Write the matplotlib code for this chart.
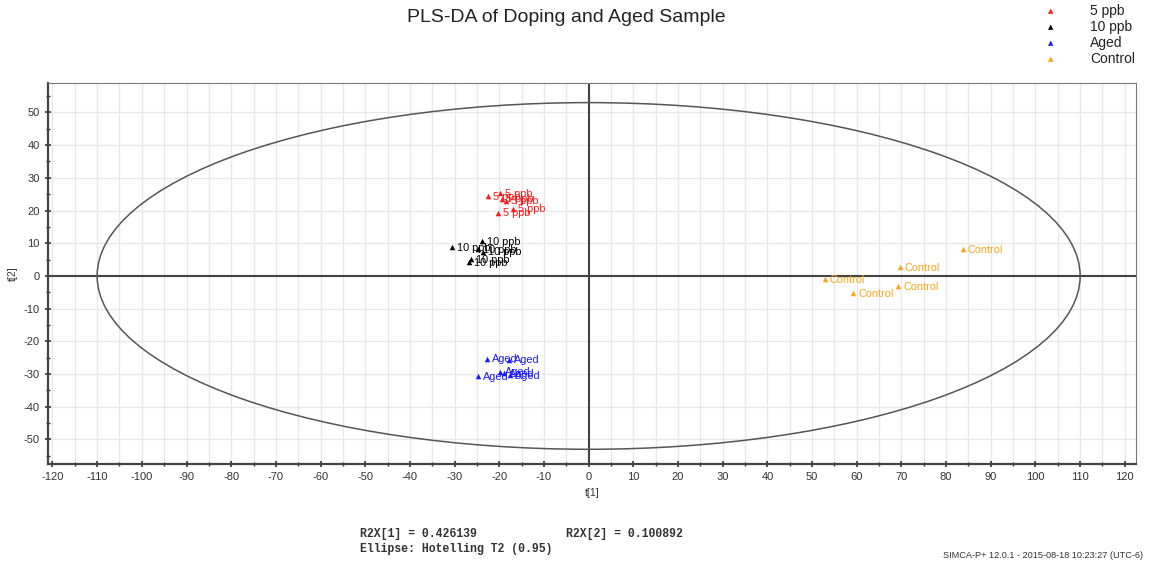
import numpy as np
import matplotlib
matplotlib.use("Agg")
import matplotlib.pyplot as plt
from matplotlib.patches import Ellipse
from matplotlib.ticker import MultipleLocator

plt.rcParams['font.family'] = ['Liberation Sans', 'DejaVu Sans']
plt.rcParams['axes.unicode_minus'] = False

# score coordinates (t[1], t[2]) per class
ppb5_t1 = [-22.5, -19.9, -19.5, -18.4, -20.3, -17.0]
ppb5_t2 = [24.3, 25.3, 23.6, 23.0, 19.4, 20.6]
ppb10_t1 = [-30.5, -23.8, -24.8, -23.6, -26.3, -26.8]
ppb10_t2 = [8.8, 10.6, 8.2, 7.4, 5.2, 4.2]
aged_t1 = [-22.8, -17.8, -24.7, -19.9, -18.9, -17.6]
aged_t2 = [-25.3, -25.6, -30.7, -29.3, -29.8, -30.4]
ctrl_t1 = [83.8, 69.6, 52.9, 69.3, 59.2]
ctrl_t2 = [8.3, 2.7, -0.9, -3.1, -5.3]

groups = [
    ("5 ppb", ppb5_t1, ppb5_t2, "#ff1a1a"),
    ("10 ppb", ppb10_t1, ppb10_t2, "#000000"),
    ("Aged", aged_t1, aged_t2, "#1a1aff"),
    ("Control", ctrl_t1, ctrl_t2, "#ffa31a"),
]

# Hotelling T2 (0.95) ellipse semi-axes
ell_a = 110.0
ell_b = 53.0

r2x_1 = 0.426139
r2x_2 = 0.100892

fig = plt.figure(figsize=(11.49, 5.65), dpi=100)
ax = fig.add_axes([48 / 1149, 101 / 565, 1088 / 1149, 381 / 565])

ax.set_xlim(-121, 122.5)
ax.set_ylim(-57.5, 59)
ax.xaxis.set_major_locator(MultipleLocator(10))
ax.xaxis.set_minor_locator(MultipleLocator(5))
ax.yaxis.set_major_locator(MultipleLocator(10))
ax.yaxis.set_minor_locator(MultipleLocator(5))
ax.xaxis.grid(True, which='both', color='#e8e8e8', linewidth=1.0, zorder=0)
ax.yaxis.grid(True, which='major', color='#e8e8e8', linewidth=1.0, zorder=0)
ax.set_axisbelow(True)

for side in ['top', 'right']:
    ax.spines[side].set_color('#777777')
    ax.spines[side].set_linewidth(0.8)
for side in ['left', 'bottom']:
    ax.spines[side].set_color('#444444')
    ax.spines[side].set_linewidth(1.6)

ax.tick_params(which='major', direction='inout', length=5, width=1.2, color='#333333',
               labelsize=8, labelcolor='#333333', top=False, right=False)
ax.tick_params(which='minor', direction='inout', length=3, width=1.0, color='#333333',
               top=False, right=False)

ax.axhline(0, color='#444444', linewidth=1.5, zorder=2)
ax.axvline(0, color='#444444', linewidth=1.5, zorder=2)

ax.add_patch(Ellipse((0, 0), 2 * ell_a, 2 * ell_b, fill=False,
                     edgecolor='#555555', linewidth=1.1, zorder=3))

for name, t1, t2, col in groups:
    ax.scatter(t1, t2, marker='^', s=16, color=col, zorder=4, linewidths=0)
    for x, y in zip(t1, t2):
        ax.annotate(name, (x, y), xytext=(3.5, -0.5), textcoords='offset points',
                    fontsize=7.8, color=col, va='center', ha='left', zorder=5)

ax.set_xlabel("t[1]", fontsize=7.5, color='#333333', labelpad=4)
ax.set_ylabel("t[2]", fontsize=7.5, color='#333333', labelpad=4)

fig.text(566 / 1149, 1 - 18 / 565, "PLS-DA of Doping and Aged Sample",
         fontsize=14, ha='center', va='center', color='#222222')

# legend in the top-right corner
for i, (name, t1, t2, col) in enumerate(groups):
    yy = 1 - (11 + 16 * i) / 565
    fig.text(1051 / 1149, yy, "\u25B2", fontsize=5, color=col, ha='center', va='center',
             family='DejaVu Sans')
    fig.text(1090 / 1149, yy, name, fontsize=10, color='#222222', ha='left', va='center')

fig.text(360 / 1149, 1 - 534 / 565, "R2X[1] = %.6f" % r2x_1, fontsize=8.3,
         family='Liberation Mono', color='#333333', va='center', weight='bold')
fig.text(566 / 1149, 1 - 534 / 565, "R2X[2] = %.6f" % r2x_2, fontsize=8.3,
         family='Liberation Mono', color='#333333', va='center', weight='bold')
fig.text(360 / 1149, 1 - 549 / 565, "Ellipse: Hotelling T2 (0.95)", fontsize=8.3,
         family='Liberation Mono', color='#333333', va='center', weight='bold')
fig.text(1143 / 1149, 1 - 556 / 565, "SIMCA-P+ 12.0.1 - 2015-08-18 10:23:27 (UTC-6)",
         fontsize=6.6, color='#333333', ha='right', va='center')

fig.savefig("out.png", dpi=100)
